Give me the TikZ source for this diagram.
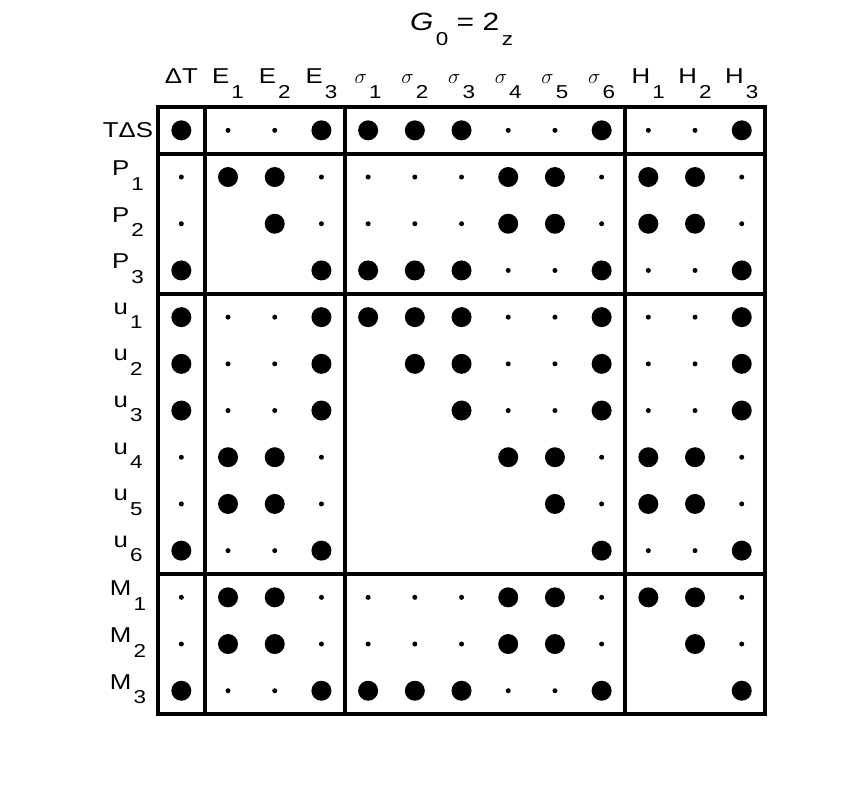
\documentclass[tikz,border=0pt]{standalone}
\usepackage{fontspec}
\setmainfont{Liberation Sans}[FakeStretch=1.2]
\usepackage{tikz}
\usetikzlibrary{positioning}

\newcommand{\lsub}[1]{\hspace{0.1em}\raisebox{-14.5pt}{\fontsize{18.7}{22}\selectfont #1}}

\begin{document}
\begin{tikzpicture}[x=46.7pt,y=46.7pt,
    big dot/.style={circle,fill=black,inner sep=0pt,minimum size=20pt},
    small dot/.style={circle,fill=black,inner sep=0pt,minimum size=5pt},
    col label/.style={anchor=base,inner sep=0pt,font=\fontsize{21.5}{25}\selectfont},
    row label/.style={anchor=center,inner sep=0pt,font=\fontsize{21.5}{25}\selectfont},
    sub label/.style={row label,yshift=1.5pt},
    frame line/.style={line width=4pt}]

    \useasboundingbox (-2.883,1.791) rectangle (15.447,-15.596);

    \node[anchor=base,inner sep=0pt,font=\fontsize{25}{28}\selectfont](title) at (7,1.134) {\textit{G}\lsub{0} = 2\lsub{z}};

    % column labels
    \node[col label](dT) at (1,0) {ΔT};
    \node[col label](E1) at (2,0) {E\lsub{1}};
    \node[col label](E2) at (3,0) {E\lsub{2}};
    \node[col label](E3) at (4,0) {E\lsub{3}};
    \node[col label](s1) at (5,0) {$\sigma$\lsub{1}};
    \node[col label](s2) at (6,0) {$\sigma$\lsub{2}};
    \node[col label](s3) at (7,0) {$\sigma$\lsub{3}};
    \node[col label](s4) at (8,0) {$\sigma$\lsub{4}};
    \node[col label](s5) at (9,0) {$\sigma$\lsub{5}};
    \node[col label](s6) at (10,0) {$\sigma$\lsub{6}};
    \node[col label](H1) at (11,0) {H\lsub{1}};
    \node[col label](H2) at (12,0) {H\lsub{2}};
    \node[col label](H3) at (13,0) {H\lsub{3}};

    % row labels
    \node[row label](TdS) at (-0.142,-1) {TΔS};
    \node[sub label](P1) at (-0.142,-2) {P\lsub{1}};
    \node[sub label](P2) at (-0.142,-3) {P\lsub{2}};
    \node[sub label](P3) at (-0.142,-4) {P\lsub{3}};
    \node[sub label](u1) at (-0.142,-5) {u\lsub{1}};
    \node[sub label](u2) at (-0.142,-6) {u\lsub{2}};
    \node[sub label](u3) at (-0.142,-7) {u\lsub{3}};
    \node[sub label](u4) at (-0.142,-8) {u\lsub{4}};
    \node[sub label](u5) at (-0.142,-9) {u\lsub{5}};
    \node[sub label](u6) at (-0.142,-10) {u\lsub{6}};
    \node[sub label](M1) at (-0.142,-11) {M\lsub{1}};
    \node[sub label](M2) at (-0.142,-12) {M\lsub{2}};
    \node[sub label](M3) at (-0.142,-13) {M\lsub{3}};

    % frame and blocks
    \draw[frame line] (0.5,-0.5) rectangle (13.5,-13.5);
    \draw[frame line] (1.5,-0.5) -- (1.5,-13.5);
    \draw[frame line] (4.5,-0.5) -- (4.5,-13.5);
    \draw[frame line] (10.5,-0.5) -- (10.5,-13.5);
    \draw[frame line] (0.5,-1.5) -- (13.5,-1.5);
    \draw[frame line] (0.5,-4.5) -- (13.5,-4.5);
    \draw[frame line] (0.5,-10.5) -- (13.5,-10.5);

    % TdS
    \node[big dot](1-1) at (1,-1){}; \node[small dot](1-2) at (2,-1){}; \node[small dot](1-3) at (3,-1){}; \node[big dot](1-4) at (4,-1){};
    \node[big dot](1-5) at (5,-1){}; \node[big dot](1-6) at (6,-1){}; \node[big dot](1-7) at (7,-1){}; \node[small dot](1-8) at (8,-1){};
    \node[small dot](1-9) at (9,-1){}; \node[big dot](1-10) at (10,-1){}; \node[small dot](1-11) at (11,-1){}; \node[small dot](1-12) at (12,-1){}; \node[big dot](1-13) at (13,-1){};
    % P1
    \node[small dot](2-1) at (1,-2){}; \node[big dot](2-2) at (2,-2){}; \node[big dot](2-3) at (3,-2){}; \node[small dot](2-4) at (4,-2){};
    \node[small dot](2-5) at (5,-2){}; \node[small dot](2-6) at (6,-2){}; \node[small dot](2-7) at (7,-2){}; \node[big dot](2-8) at (8,-2){};
    \node[big dot](2-9) at (9,-2){}; \node[small dot](2-10) at (10,-2){}; \node[big dot](2-11) at (11,-2){}; \node[big dot](2-12) at (12,-2){}; \node[small dot](2-13) at (13,-2){};
    % P2
    \node[small dot](3-1) at (1,-3){}; \node[big dot](3-3) at (3,-3){}; \node[small dot](3-4) at (4,-3){};
    \node[small dot](3-5) at (5,-3){}; \node[small dot](3-6) at (6,-3){}; \node[small dot](3-7) at (7,-3){}; \node[big dot](3-8) at (8,-3){};
    \node[big dot](3-9) at (9,-3){}; \node[small dot](3-10) at (10,-3){}; \node[big dot](3-11) at (11,-3){}; \node[big dot](3-12) at (12,-3){}; \node[small dot](3-13) at (13,-3){};
    % P3
    \node[big dot](4-1) at (1,-4){}; \node[big dot](4-4) at (4,-4){};
    \node[big dot](4-5) at (5,-4){}; \node[big dot](4-6) at (6,-4){}; \node[big dot](4-7) at (7,-4){}; \node[small dot](4-8) at (8,-4){};
    \node[small dot](4-9) at (9,-4){}; \node[big dot](4-10) at (10,-4){}; \node[small dot](4-11) at (11,-4){}; \node[small dot](4-12) at (12,-4){}; \node[big dot](4-13) at (13,-4){};
    % u1
    \node[big dot](5-1) at (1,-5){}; \node[small dot](5-2) at (2,-5){}; \node[small dot](5-3) at (3,-5){}; \node[big dot](5-4) at (4,-5){};
    \node[big dot](5-5) at (5,-5){}; \node[big dot](5-6) at (6,-5){}; \node[big dot](5-7) at (7,-5){}; \node[small dot](5-8) at (8,-5){};
    \node[small dot](5-9) at (9,-5){}; \node[big dot](5-10) at (10,-5){}; \node[small dot](5-11) at (11,-5){}; \node[small dot](5-12) at (12,-5){}; \node[big dot](5-13) at (13,-5){};
    % u2
    \node[big dot](6-1) at (1,-6){}; \node[small dot](6-2) at (2,-6){}; \node[small dot](6-3) at (3,-6){}; \node[big dot](6-4) at (4,-6){};
    \node[big dot](6-6) at (6,-6){}; \node[big dot](6-7) at (7,-6){}; \node[small dot](6-8) at (8,-6){};
    \node[small dot](6-9) at (9,-6){}; \node[big dot](6-10) at (10,-6){}; \node[small dot](6-11) at (11,-6){}; \node[small dot](6-12) at (12,-6){}; \node[big dot](6-13) at (13,-6){};
    % u3
    \node[big dot](7-1) at (1,-7){}; \node[small dot](7-2) at (2,-7){}; \node[small dot](7-3) at (3,-7){}; \node[big dot](7-4) at (4,-7){};
    \node[big dot](7-7) at (7,-7){}; \node[small dot](7-8) at (8,-7){};
    \node[small dot](7-9) at (9,-7){}; \node[big dot](7-10) at (10,-7){}; \node[small dot](7-11) at (11,-7){}; \node[small dot](7-12) at (12,-7){}; \node[big dot](7-13) at (13,-7){};
    % u4
    \node[small dot](8-1) at (1,-8){}; \node[big dot](8-2) at (2,-8){}; \node[big dot](8-3) at (3,-8){}; \node[small dot](8-4) at (4,-8){};
    \node[big dot](8-8) at (8,-8){};
    \node[big dot](8-9) at (9,-8){}; \node[small dot](8-10) at (10,-8){}; \node[big dot](8-11) at (11,-8){}; \node[big dot](8-12) at (12,-8){}; \node[small dot](8-13) at (13,-8){};
    % u5
    \node[small dot](9-1) at (1,-9){}; \node[big dot](9-2) at (2,-9){}; \node[big dot](9-3) at (3,-9){}; \node[small dot](9-4) at (4,-9){};
    \node[big dot](9-9) at (9,-9){}; \node[small dot](9-10) at (10,-9){}; \node[big dot](9-11) at (11,-9){}; \node[big dot](9-12) at (12,-9){}; \node[small dot](9-13) at (13,-9){};
    % u6
    \node[big dot](10-1) at (1,-10){}; \node[small dot](10-2) at (2,-10){}; \node[small dot](10-3) at (3,-10){}; \node[big dot](10-4) at (4,-10){};
    \node[big dot](10-10) at (10,-10){}; \node[small dot](10-11) at (11,-10){}; \node[small dot](10-12) at (12,-10){}; \node[big dot](10-13) at (13,-10){};
    % M1
    \node[small dot](11-1) at (1,-11){}; \node[big dot](11-2) at (2,-11){}; \node[big dot](11-3) at (3,-11){}; \node[small dot](11-4) at (4,-11){};
    \node[small dot](11-5) at (5,-11){}; \node[small dot](11-6) at (6,-11){}; \node[small dot](11-7) at (7,-11){}; \node[big dot](11-8) at (8,-11){};
    \node[big dot](11-9) at (9,-11){}; \node[small dot](11-10) at (10,-11){}; \node[big dot](11-11) at (11,-11){}; \node[big dot](11-12) at (12,-11){}; \node[small dot](11-13) at (13,-11){};
    % M2
    \node[small dot](12-1) at (1,-12){}; \node[big dot](12-2) at (2,-12){}; \node[big dot](12-3) at (3,-12){}; \node[small dot](12-4) at (4,-12){};
    \node[small dot](12-5) at (5,-12){}; \node[small dot](12-6) at (6,-12){}; \node[small dot](12-7) at (7,-12){}; \node[big dot](12-8) at (8,-12){};
    \node[big dot](12-9) at (9,-12){}; \node[small dot](12-10) at (10,-12){}; \node[big dot](12-12) at (12,-12){}; \node[small dot](12-13) at (13,-12){};
    % M3
    \node[big dot](13-1) at (1,-13){}; \node[small dot](13-2) at (2,-13){}; \node[small dot](13-3) at (3,-13){}; \node[big dot](13-4) at (4,-13){};
    \node[big dot](13-5) at (5,-13){}; \node[big dot](13-6) at (6,-13){}; \node[big dot](13-7) at (7,-13){}; \node[small dot](13-8) at (8,-13){};
    \node[small dot](13-9) at (9,-13){}; \node[big dot](13-10) at (10,-13){}; \node[big dot](13-13) at (13,-13){};

\end{tikzpicture}
\end{document}
